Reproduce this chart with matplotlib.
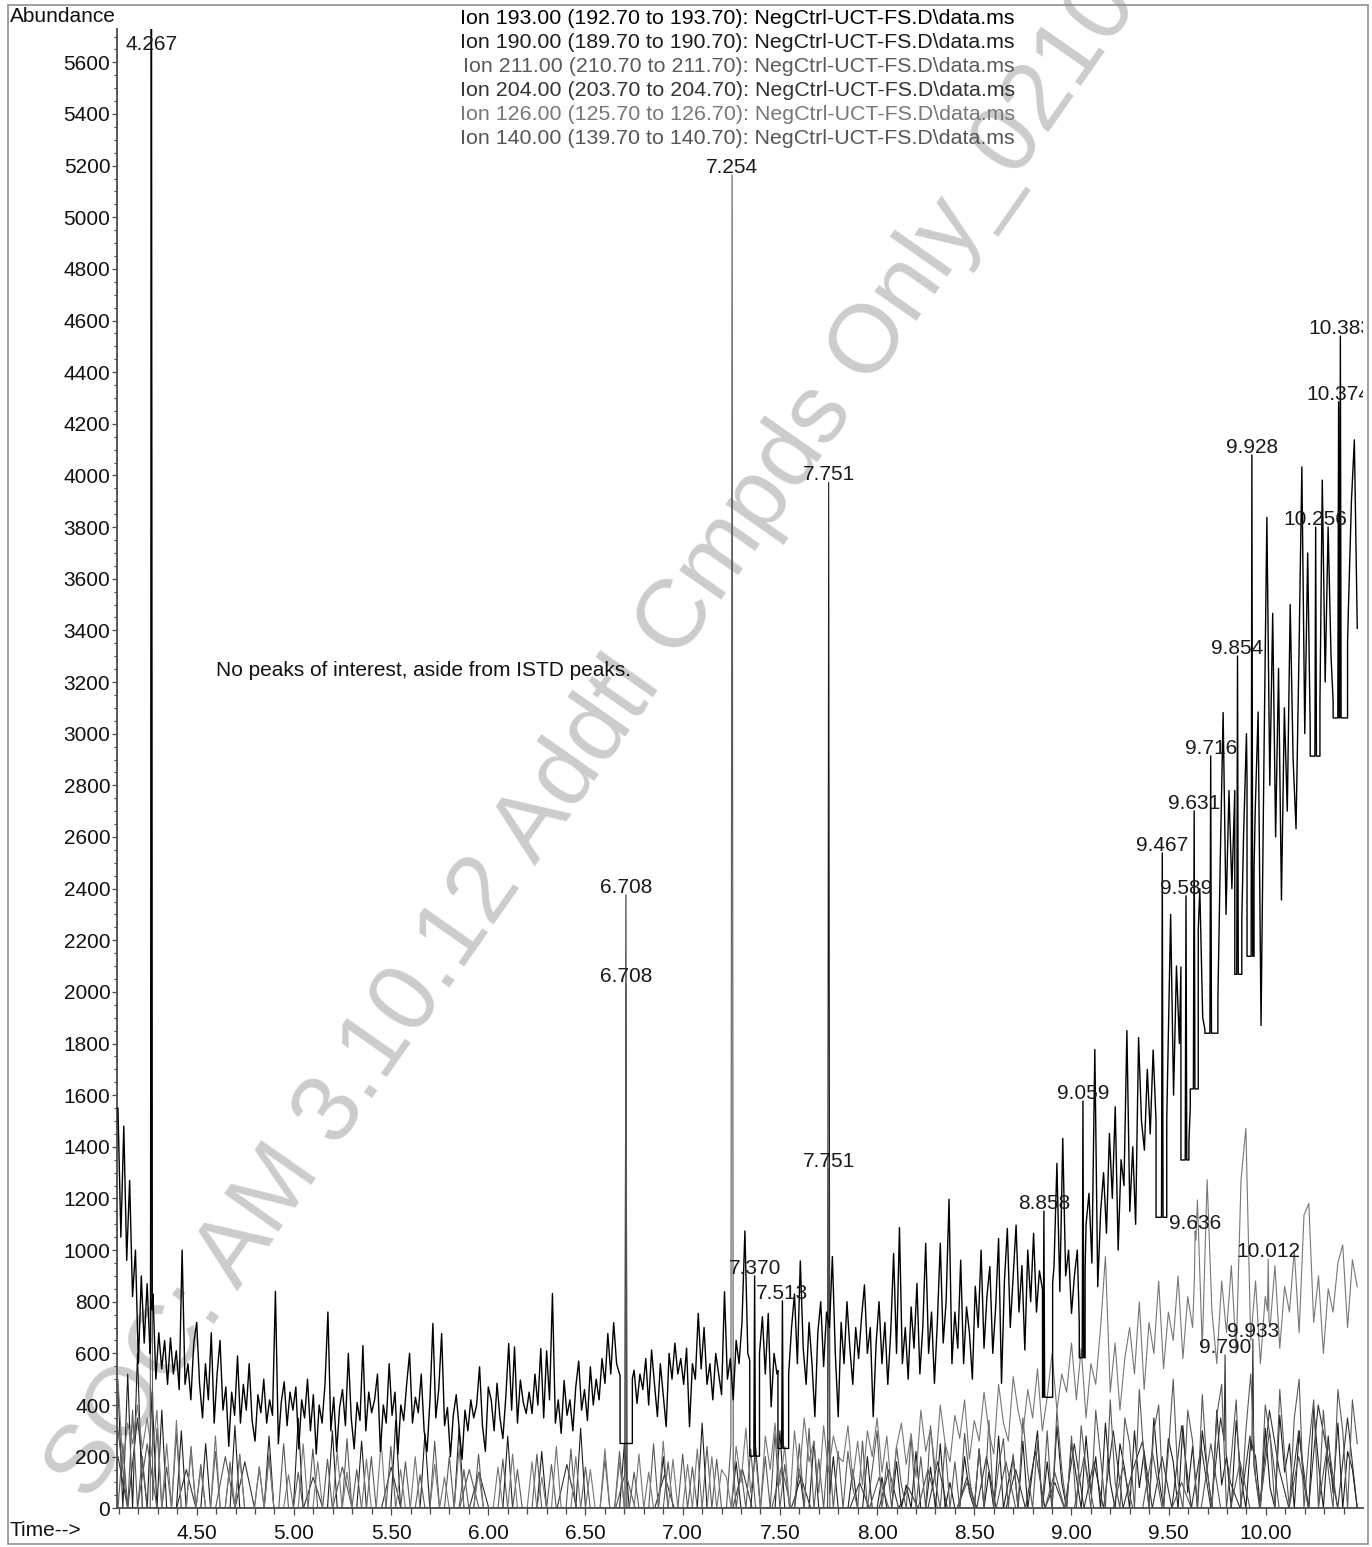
import numpy as np
import matplotlib
matplotlib.use("Agg")
import matplotlib.pyplot as plt
from matplotlib.ticker import MultipleLocator, FuncFormatter
from matplotlib.patches import Rectangle

plt.rcParams['font.family'] = ['Liberation Sans', 'DejaVu Sans']

# ======================= DATA =======================
ion_names = [
    "Ion 193.00 (192.70 to 193.70): NegCtrl-UCT-FS.D\\data.ms",
    "Ion 190.00 (189.70 to 190.70): NegCtrl-UCT-FS.D\\data.ms",
    "Ion 211.00 (210.70 to 211.70): NegCtrl-UCT-FS.D\\data.ms",
    "Ion 204.00 (203.70 to 204.70): NegCtrl-UCT-FS.D\\data.ms",
    "Ion 126.00 (125.70 to 126.70): NegCtrl-UCT-FS.D\\data.ms",
    "Ion 140.00 (139.70 to 140.70): NegCtrl-UCT-FS.D\\data.ms",
]
note_text = "No peaks of interest, aside from ISTD peaks."
note_pos = (4.599, 3243)
watermark_text = "SOC: AM 3.10.12 Addtl Cmpds Only_02102017"

# ---- Ion 193 (main trace): segments of abundance on a regular scan grid ----
ion193_bounds = [(4.095, 4.500), (4.515, 6.000), (6.015, 7.500), (7.515, 9.000), (9.015, 10.470)]
ion193_s1 = [1550, 1050, 1480, 960, 1270, 820, 1000, 560, 900, 640,
             870, 600, 830, 500, 680, 540, 650, 480, 660, 520,
             610, 460, 1000, 480, 560, 420, 640, 720]
ion193_s2 = [480, 350, 560, 420, 680, 330, 520, 650, 380, 470,
             240, 450, 360, 590, 330, 480, 380, 560, 340, 260,
             440, 370, 500, 330, 420, 360, 840, 250, 410, 490,
             320, 450, 380, 470, 230, 420, 350, 500, 300, 440,
             210, 400, 330, 480, 760, 300, 430, 220, 390, 460,
             320, 600, 350, 230, 410, 340, 630, 300, 450, 370,
             420, 520, 220, 400, 330, 560, 360, 450, 210, 400,
             340, 480, 600, 330, 430, 370, 520, 300, 220, 420,
             716, 350, 460, 677, 320, 390, 200, 360, 440, 310,
             190, 380, 300, 420, 350, 400, 548, 320, 220, 470]
ion193_s3 = [420, 300, 484, 350, 270, 430, 638, 380, 625, 330,
             497, 410, 367, 450, 367, 520, 400, 619, 350, 610,
             420, 832, 330, 420, 290, 495, 360, 420, 300, 470,
             570, 380, 460, 340, 548, 400, 500, 420, 580, 484,
             677, 520, 719, 560, 520, 500, 500, 500, 480, 535,
             406, 520, 460, 580, 400, 613, 480, 355, 560, 440,
             316, 600, 500, 640, 520, 580, 480, 620, 316, 560,
             500, 755, 540, 700, 480, 560, 420, 600, 520, 440,
             839, 500, 580, 420, 650, 560, 720, 1074, 600, 560,
             600, 600, 600, 742, 520, 755, 393, 600, 520, 560]
ion193_s4 = [600, 600, 520, 700, 830, 560, 958, 620, 480, 720,
             560, 355, 680, 800, 549, 760, 700, 975, 600, 355,
             720, 560, 800, 620, 480, 700, 580, 740, 865, 600,
             700, 355, 640, 800, 560, 720, 480, 680, 987, 600,
             1087, 560, 700, 500, 780, 620, 871, 520, 700, 1026,
             600, 760, 484, 720, 1026, 640, 800, 1197, 560, 760,
             620, 961, 560, 780, 680, 500, 860, 700, 1000, 620,
             820, 936, 600, 780, 1045, 484, 880, 1084, 700, 900,
             1097, 760, 940, 613, 1000, 800, 1065, 760, 920, 850,
             800, 800, 800, 936, 1336, 840, 1433, 900, 1000, 755]
ion193_s5 = [900, 1000, 583, 583, 1100, 1220, 950, 1777, 858, 1150,
             1300, 1065, 1452, 1200, 1555, 1000, 1350, 1250, 1850, 1150,
             1400, 1100, 1823, 1500, 1387, 1700, 1450, 1775, 1500, 1127,
             1127, 1127, 1700, 2300, 1600, 2100, 1800, 2356, 1600, 1349,
             1624, 1624, 2100, 2400, 1900, 1840, 1840, 1840, 1840, 1840,
             2500, 3082, 2300, 2780, 2400, 2780, 2068, 2068, 2600, 3000,
             2138, 2138, 2700, 3084, 1870, 2900, 3838, 2800, 3466, 2600,
             3253, 2356, 3100, 2700, 3500, 2900, 2632, 3300, 4033, 3000,
             3700, 2913, 2913, 2913, 2913, 3982, 3200, 3800, 3300, 3061,
             3061, 3061, 3061, 3061, 3500, 3900, 4138, 3408]
ion193_notch_start = [6.678, 7.345, 7.490, 8.851, 9.040, 9.435, 9.563, 9.611, 9.686, 9.840, 9.903, 10.228, 10.346]
ion193_notch_end = [6.741, 7.395, 7.545, 8.903, 9.070, 9.490, 9.604, 9.652, 9.753, 9.876, 9.939, 10.278, 10.420]
ion193_notch_level = [251, 202, 232, 430, 583, 1127, 1349, 1624, 1840, 2068, 2138, 2913, 3061]
ion193_peak_t = [4.267, 7.370, 7.513, 8.858, 9.059, 9.467, 9.589, 9.631, 9.716, 9.854, 9.928, 10.256, 10.374, 10.383]
ion193_peak_h = [5900, 900, 803, 1151, 1577, 2538, 2372, 2701, 2914, 3301, 4079, 3800, 4285, 4540]

# ---- lower traces: four segments on a regular scan grid ----
low_bounds = [(4.095, 6.000), (6.025, 7.800), (7.825, 9.000), (9.025, 10.470)]

ion126_a = [500, 170, 330, 250, 400, 230, 350, 200, 380, 0, 250,
            0, 340, 0, 0, 220, 0, 150, 0, 0, 280, 0, 0, 170, 0, 200, 0, 0, 0, 160, 0, 210, 0, 0, 0, 130,
            0, 0, 250, 0, 0, 180, 0, 0, 0, 220, 0, 140, 0, 0, 0, 190, 0, 0, 260, 0, 0, 0, 150, 0, 0,
            200, 0, 0, 0, 170, 0, 120, 0, 0, 230, 0, 0, 0, 140, 0, 0]
ion126_b = [0, 160, 0, 0, 210, 0, 0, 0, 180, 0, 120, 0, 0, 240, 0, 0, 0, 200, 0, 0,
            150, 0, 0, 230, 0, 0, 180, 0, 0, 0, 210, 0, 140, 0, 0, 260, 0, 190, 0, 0,
            170, 0, 230, 0, 0, 200, 0, 150,
            120, 0, 240, 100, 310, 60, 200, 0, 280, 150, 330, 90, 240, 0, 300, 120, 350, 180, 260, 60,
            320, 140, 280, 200]
ion126_c = [180, 320, 110, 260, 90, 300, 200, 350, 140, 280, 60, 240, 330, 170, 290, 120, 380, 220, 310, 150,
            400, 250, 180, 360, 270, 420, 190, 340, 260, 450, 300, 210, 480, 330, 260, 510, 380, 290, 460, 350,
            540, 300, 430, 600, 380, 520, 450, 640]
ion126_d = [420, 620, 350, 560, 480, 700, 975, 450, 640, 380, 580, 700,
            520, 800, 460, 720, 600, 880, 540, 760, 650, 900, 580, 820,
            700, 1194, 620, 1272, 760, 560, 880, 680, 940, 600, 1272, 1472,
            650, 880, 560, 820, 700, 940, 620, 860, 760, 1000, 680, 1136,
            1181, 720, 900, 600, 850, 760, 950, 1020, 700, 962, 858]
ion126_peak_t = [9.636, 10.012]
ion126_peak_h = [1074, 965]

ion211_a = [0, 250, 0, 380, 0, 200, 0, 0, 310, 0, 160, 0, 290, 0, 0, 240, 0, 170, 0, 0,
            220, 0, 0, 180, 0, 210, 0, 0, 0, 160, 0, 200, 0, 0, 250, 0, 0, 140, 0, 0,
            230, 0, 0, 190, 0, 0, 0, 270, 0, 150, 0, 0, 200, 0, 0, 0, 240, 0, 0, 180,
            0, 0, 130, 0, 0, 260, 0, 0, 200, 0, 0, 150, 0, 0, 210, 0, 0]
ion211_b = [0, 0, 190, 0, 0, 150, 0, 0, 0, 210, 0, 0, 170, 0, 0, 0, 230, 0, 0, 160,
            0, 0, 0, 190, 0, 0, 220, 0, 0, 140, 0, 0, 0, 250, 0, 0, 180, 0, 0, 210,
            0, 160, 0, 0, 240, 0, 190, 0, 0, 270, 0, 150, 0, 230, 0, 0, 200, 0, 290, 0,
            170, 0, 0, 250, 0, 310, 0, 190, 0, 260, 0, 220]
ion211_c = [0, 220, 80, 0, 260, 0, 150, 300, 0, 180, 0, 240, 90, 0, 280, 0, 200, 0, 320, 100,
            0, 250, 0, 180, 0, 290, 120, 0, 230, 0, 340, 0, 160, 270, 0, 210, 0, 350, 140, 0,
            260, 0, 300, 0, 380, 150, 0, 280]
ion211_d = [0, 320, 150, 0, 380, 200, 0, 420, 100, 0, 350, 250, 0, 460, 180, 0, 300, 400, 0, 220,
            500, 100, 0, 380, 260, 0, 440, 150, 0, 360, 480, 0, 200, 420, 0, 300, 520, 120, 0, 400,
            280, 0, 460, 200, 0, 350, 500, 0, 240, 420, 0, 380, 150, 0, 460, 300, 0, 420, 250]
ion211_peak_t = [4.267, 7.254]
ion211_peak_h = [6500, 5164]
ion211_peak_labeled = [False, True]

ion190_a = [480, 0, 520, 0, 600, 0, 0, 450, 0, 380, 0, 0, 0, 300, 0, 0, 0, 0, 250, 0,
            0, 0, 0, 0, 320, 0, 0, 0, 0, 0, 0, 280, 0, 0, 0, 0, 0, 350, 0, 0,
            0, 0, 0, 0, 300, 0, 0, 0, 0, 0, 260, 0, 0, 0, 0, 0, 0, 340, 0, 0,
            0, 0, 0, 290, 0, 0, 0, 0, 0, 0, 310, 0, 0, 0, 0, 0, 0]
ion190_b = [0, 0, 0, 280, 0, 0, 0, 0, 0, 0, 220, 0, 0, 0, 0, 0, 0, 0, 310, 0,
            0, 0, 0, 0, 0, 0, 0, 250, 0, 0, 0, 0, 0, 0, 0, 200, 0, 0, 0, 0,
            0, 0, 0, 330, 0, 0, 0, 0, 0, 0, 180, 0, 0, 0, 240, 0, 0, 0, 0, 300,
            0, 0, 0, 150, 0, 0, 260, 0, 0, 0, 200, 0]
ion190_c = [0, 0, 150, 0, 0, 200, 0, 0, 120, 0, 0, 180, 0, 90, 0, 220, 0, 0, 160, 0,
            250, 0, 100, 0, 0, 200, 60, 0, 230, 0, 140, 0, 280, 0, 100, 200, 0, 260, 0, 150,
            300, 0, 180, 0, 320, 100, 0, 250]
ion190_d = [120, 0, 280, 60, 200, 0, 330, 100, 0, 250, 150, 0, 300, 80, 220, 0, 350, 120, 0, 270,
            180, 0, 320, 60, 240, 0, 300, 150, 0, 380, 90, 200, 0, 340, 120, 0, 260, 200, 0, 310,
            80, 0, 360, 140, 250, 0, 300, 100, 0, 390, 170, 0, 280, 60, 330, 0, 220, 150, 0]
ion190_peak_t = [7.751]
ion190_peak_h = [3973]

# ---- Ions 204 and 140: coarse scan grid over the whole window ----
coarse_range = (4.095, 10.470)
ion204_vals = [200, 0, 350, 0, 0, 0, 0, 150, 0, 0, 0, 0, 0, 180, 0, 0, 0, 0, 0, 0,
               120, 0, 0, 0, 0, 0, 0, 0, 160, 0, 0, 0, 0, 0, 0, 0, 0, 140, 0, 0,
               0, 0, 0, 0, 0, 0, 170, 0, 0, 0, 0, 0, 0, 0, 0, 0, 130, 0, 0, 0,
               0, 0, 0, 0, 150, 0, 0, 0, 0, 0, 120, 0, 0, 0, 0,
               0, 100, 0, 0, 150, 0, 80, 0, 0, 180, 0, 0, 120, 0, 200, 0, 0, 150, 0, 220,
               0, 100, 0, 250, 0, 180, 0, 300, 0, 150, 260, 0, 200, 0, 320, 0, 240, 0, 350, 100,
               0, 280, 0, 380, 150, 0, 300, 0, 400, 200, 0, 350, 0]
ion204_peak_t = [6.708, 9.790, 9.933]
ion204_peak_h = [2376, 594, 656]

ion140_vals = [300, 0, 0, 250, 0, 0, 0, 0, 0, 0, 0, 200, 0, 0, 0, 0, 0, 0, 0, 0,
               0, 0, 0, 160, 0, 0, 0, 0, 0, 0, 0, 0, 0, 0, 0, 0, 150, 0, 0, 0,
               0, 0, 0, 0, 0, 0, 0, 0, 0, 0, 0, 0, 140, 0, 0, 0, 0, 0, 0, 0,
               0, 0, 0, 0, 0, 0, 0, 0, 160, 0, 0, 0, 0, 0, 0,
               0, 0, 0, 120, 0, 0, 0, 0, 150, 0, 0, 0, 100, 0, 0, 0, 180, 0, 0, 0,
               0, 140, 0, 0, 200, 0, 0, 0, 160, 0, 0, 220, 0, 0, 100, 0, 0, 250, 0, 0,
               180, 0, 0, 300, 0, 0, 200, 0, 0, 260, 0, 0, 0]
ion140_peak_t = [6.708, 7.751]
ion140_peak_h = [2031, 1314]

# ======================= HELPERS =======================
def build(segs, bounds):
    t = np.concatenate([np.linspace(a, b, len(s)) for s, (a, b) in zip(segs, bounds)])
    v = np.concatenate([np.asarray(s, float) for s in segs])
    return t, v


def add_notches(t, v, starts, ends, levels):
    for ts, te, lv in zip(starts, ends, levels):
        vs, ve = np.interp([ts, te], t, v)
        keep = (t < ts) | (t > te)
        t = np.concatenate([t[keep], [ts - 1e-4, ts, te, te + 1e-4]])
        v = np.concatenate([v[keep], [vs, lv, lv, ve]])
        o = np.argsort(t, kind="stable")
        t, v = t[o], v[o]
    return t, v


def add_peaks(t, v, times, heights, hw=0.004):
    for tp, h in zip(times, heights):
        bl, br = np.interp([tp - hw, tp + hw], t, v)
        keep = (t < tp - hw) | (t > tp + hw)
        t = np.concatenate([t[keep], [tp - hw, tp, tp + hw]])
        v = np.concatenate([v[keep], [bl, h, br]])
        o = np.argsort(t, kind="stable")
        t, v = t[o], v[o]
    return t, v


t193, v193 = build([ion193_s1, ion193_s2, ion193_s3, ion193_s4, ion193_s5], ion193_bounds)
t193, v193 = add_notches(t193, v193, ion193_notch_start, ion193_notch_end, ion193_notch_level)
t193, v193 = add_peaks(t193, v193, ion193_peak_t, ion193_peak_h)

t126, v126 = build([ion126_a, ion126_b, ion126_c, ion126_d], low_bounds)
t126, v126 = add_peaks(t126, v126, ion126_peak_t, ion126_peak_h)
t211, v211 = build([ion211_a, ion211_b, ion211_c, ion211_d], low_bounds)
t211, v211 = add_peaks(t211, v211, ion211_peak_t, ion211_peak_h, hw=0.006)
t190, v190 = build([ion190_a, ion190_b, ion190_c, ion190_d], low_bounds)
t190, v190 = add_peaks(t190, v190, ion190_peak_t, ion190_peak_h, hw=0.006)
t204, v204 = build([ion204_vals], [coarse_range])
t204, v204 = add_peaks(t204, v204, ion204_peak_t, ion204_peak_h, hw=0.005)
t140, v140 = build([ion140_vals], [coarse_range])
t140, v140 = add_peaks(t140, v140, ion140_peak_t, ion140_peak_h, hw=0.006)

# ======================= FIGURE =======================
W, H = 1372, 1547
fig = plt.figure(figsize=(W / 100, H / 100), dpi=100)
fig.patch.set_facecolor("white")

x0, x1, ybot, ytop = 117.3, 1363.0, 1508.3, 29.3
ax = fig.add_axes([x0 / W, 1 - ybot / H, (x1 - x0) / W, (ybot - ytop) / H])
ax.set_facecolor("none")
XMIN, XMAX, YMAX = 4.0916, 10.4995, 5728
ax.set_xlim(XMIN, XMAX)
ax.set_ylim(0, YMAX)

colors = {"193": "#000000", "190": "#1c1c1c", "211": "#5a5a5a",
          "204": "#333333", "126": "#777777", "140": "#555555"}
lw = 0.8
ax.plot(t190, v190, color=colors["190"], lw=lw, zorder=2)
ax.plot(t204, v204, color=colors["204"], lw=lw, zorder=2)
ax.plot(t140, v140, color=colors["140"], lw=lw, zorder=2)
ax.plot(t211, v211, color=colors["211"], lw=lw, zorder=2)
ax.plot(t126, v126, color=colors["126"], lw=lw, zorder=2)
ax.plot(t193, v193, color=colors["193"], lw=1.0, zorder=3)

# peak labels
FS = 15
label_list = list(zip(ion193_peak_t, ion193_peak_h))
label_list += [(t, h) for t, h, f in zip(ion211_peak_t, ion211_peak_h, ion211_peak_labeled) if f]
label_list += list(zip(ion190_peak_t, ion190_peak_h))
label_list += list(zip(ion204_peak_t, ion204_peak_h))
label_list += list(zip(ion140_peak_t, ion140_peak_h))
label_list += list(zip(ion126_peak_t, ion126_peak_h))
for t, h in label_list:
    ax.text(t, min(h, 5640) + 8, f"{t:.3f}", ha="center", va="baseline",
            fontsize=FS, color="#1a1a1a", clip_on=True, zorder=5)

ax.text(note_pos[0], note_pos[1], note_text, ha="left", va="center",
        fontsize=FS, color="#111111", zorder=5)

# axes styling
for s in ["top", "right"]:
    ax.spines[s].set_visible(False)
for s in ["left", "bottom"]:
    ax.spines[s].set_color("#4a4a4a")
    ax.spines[s].set_linewidth(1.3)
ax.xaxis.set_major_locator(MultipleLocator(0.5))
ax.xaxis.set_minor_locator(MultipleLocator(0.1))
ax.xaxis.set_major_formatter(FuncFormatter(lambda x, p: f"{x:.2f}"))
ax.yaxis.set_major_locator(MultipleLocator(200))
ax.yaxis.set_minor_locator(MultipleLocator(50))
ax.yaxis.set_major_formatter(FuncFormatter(lambda y, p: f"{y:.0f}"))
ax.tick_params(axis="x", which="major", direction="out", length=5.2, width=0.9,
               pad=6.0, labelsize=FS, color="#4a4a4a", labelcolor="#111111")
ax.tick_params(axis="x", which="minor", direction="out", length=4.0, width=0.9, color="#4a4a4a")
ax.tick_params(axis="y", which="major", direction="out", length=3.6, width=0.9,
               pad=1.4, labelsize=FS, color="#4a4a4a", labelcolor="#111111")
ax.tick_params(axis="y", which="minor", direction="out", length=2.2, width=0.8, color="#4a4a4a")

# legend (ion list) at top
legend_colors = [colors["193"], colors["190"], colors["211"], colors["204"], colors["126"], colors["140"]]
for k, (name, c) in enumerate(zip(ion_names, legend_colors)):
    fig.text(1015 / W, 1 - (18 + 24 * k) / H, name, ha="right", va="center",
             fontsize=15.4, color=c)

fig.text(10 / W, 1 - 17 / H, "Abundance", ha="left", va="center", fontsize=FS, color="#111111")
fig.text(10 / W, 1 - 1531 / H, "Time-->", ha="left", va="center", fontsize=FS, color="#111111")

# outer frame
fig.patches.append(Rectangle((8 / W, 1 - 1543.5 / H), (1368 - 8) / W, (1543.5 - 4.5) / H,
                             transform=fig.transFigure, fill=False, ec="#909090", lw=1.2))

# watermark
fig.text(655 / W, 1 - 650 / H, watermark_text, ha="center", va="center", rotation=55,
         rotation_mode="anchor", fontsize=70, color="#cccccc", zorder=-5)

fig.savefig("out.png", dpi=100)
